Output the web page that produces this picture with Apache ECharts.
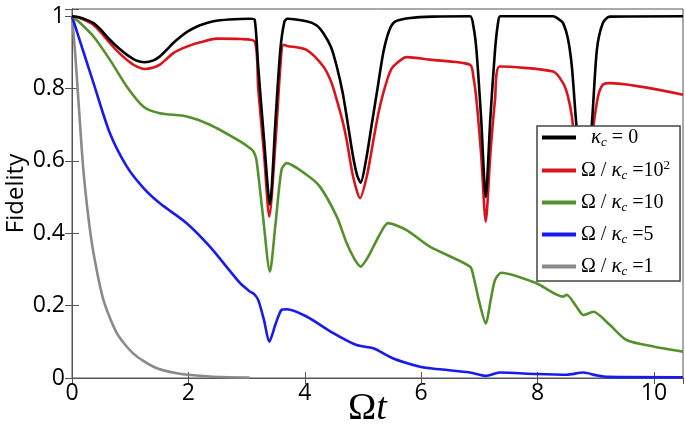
<!DOCTYPE html>
<html>
<head>
<meta charset="utf-8">
<style>
    html, body { margin: 0; padding: 0; background: #fff; }
    #fidelity { width: 685px; height: 424px; }
</style>
<script src="https://cdn.jsdelivr.net/npm/echarts@6/dist/echarts.min.js"></script>
</head>
<body>
<div id="fidelity"></div>
<script>
// 曲线数据
const blackX = [0, 0.12, 0.25, 0.37, 0.5, 0.65, 0.8, 0.94, 1.1, 1.25, 1.4, 1.51, 1.62, 1.74, 1.87, 1.99, 2.2, 2.43, 2.7, 3.06, 3.14, 3.2, 3.3, 3.4, 3.5, 3.58, 3.65, 3.7, 4.03, 4.2, 4.32, 4.45, 4.55, 4.65, 4.72, 4.83, 4.9, 4.96, 5.05, 5.15, 5.25, 5.35, 5.45, 5.55, 5.81, 6.2, 6.84, 6.9, 6.95, 7.03, 7.11, 7.19, 7.27, 7.32, 7.36, 8.27, 8.38, 8.44, 8.52, 8.59, 8.67, 8.8, 8.93, 9.02, 9.12, 9.24, 10.5];
const blackY = [1.0, 0.997, 0.99, 0.981, 0.962, 0.935, 0.912, 0.894, 0.878, 0.873, 0.878, 0.889, 0.906, 0.926, 0.944, 0.958, 0.975, 0.986, 0.991, 0.993, 0.99, 0.86, 0.66, 0.48, 0.72, 0.907, 0.985, 0.993, 0.986, 0.975, 0.953, 0.915, 0.861, 0.79, 0.723, 0.612, 0.56, 0.54, 0.6, 0.7, 0.8, 0.9, 0.96, 0.985, 0.995, 0.999, 1.0, 0.97, 0.907, 0.72, 0.50, 0.72, 0.907, 0.98, 1.0, 1.0, 0.99, 0.981, 0.94, 0.861, 0.695, 0.5, 0.695, 0.907, 0.98, 0.999, 1.0];

const redX = [0, 0.12, 0.25, 0.37, 0.5, 0.65, 0.8, 0.94, 1.1, 1.25, 1.4, 1.51, 1.62, 1.74, 1.87, 1.99, 2.2, 2.49, 2.89, 3.14, 3.2, 3.3, 3.39, 3.5, 3.58, 3.63, 3.7, 4.03, 4.32, 4.45, 4.55, 4.65, 4.72, 4.83, 4.95, 5.07, 5.18, 5.27, 5.35, 5.45, 5.52, 5.75, 6.15, 6.84, 6.9, 6.95, 7.03, 7.11, 7.19, 7.27, 7.35, 8.27, 8.44, 8.52, 8.59, 8.67, 8.8, 8.9, 8.96, 9.04, 9.12, 9.24, 10.5];
const redY = [1.0, 0.996, 0.987, 0.976, 0.955, 0.926, 0.9, 0.880, 0.862, 0.854, 0.858, 0.866, 0.881, 0.898, 0.909, 0.917, 0.928, 0.938, 0.937, 0.930, 0.80, 0.62, 0.446, 0.66, 0.86, 0.921, 0.918, 0.907, 0.861, 0.82, 0.769, 0.71, 0.658, 0.557, 0.497, 0.56, 0.658, 0.735, 0.788, 0.84, 0.861, 0.887, 0.880, 0.866, 0.83, 0.769, 0.62, 0.432, 0.62, 0.769, 0.861, 0.847, 0.815, 0.78, 0.723, 0.6, 0.44, 0.6, 0.695, 0.778, 0.81, 0.815, 0.783];

const greenX = [0, 0.15, 0.37, 0.65, 0.94, 1.23, 1.51, 1.97, 2.37, 2.89, 3.06, 3.12, 3.17, 3.28, 3.40, 3.50, 3.60, 3.69, 4.03, 4.26, 4.55, 4.72, 4.85, 4.96, 5.07, 5.18, 5.30, 5.43, 5.75, 6.15, 6.84, 6.90, 7.0, 7.11, 7.2, 7.27, 7.38, 7.98, 8.44, 8.5, 8.67, 8.79, 8.96, 9.24, 9.53, 9.99, 10.5];
const greenY = [1.0, 0.98, 0.944, 0.880, 0.806, 0.750, 0.732, 0.723, 0.700, 0.654, 0.635, 0.626, 0.603, 0.45, 0.294, 0.43, 0.575, 0.594, 0.562, 0.529, 0.446, 0.373, 0.33, 0.308, 0.33, 0.363, 0.40, 0.428, 0.409, 0.363, 0.308, 0.280, 0.21, 0.151, 0.22, 0.271, 0.291, 0.262, 0.225, 0.23, 0.197, 0.174, 0.183, 0.147, 0.105, 0.087, 0.073];

const blueX = [0, 0.1, 0.37, 0.65, 0.94, 1.23, 1.51, 1.97, 2.37, 2.89, 3.05, 3.13, 3.20, 3.30, 3.39, 3.50, 3.60, 3.69, 4.03, 4.49, 4.89, 5.18, 5.52, 5.98, 6.15, 6.84, 7.11, 7.35, 7.98, 8.5, 8.79, 9.0, 9.2, 10.5];
const blueY = [1.0, 0.95, 0.815, 0.677, 0.585, 0.525, 0.483, 0.428, 0.363, 0.262, 0.24, 0.232, 0.216, 0.16, 0.100, 0.15, 0.188, 0.190, 0.170, 0.124, 0.091, 0.082, 0.054, 0.031, 0.027, 0.015, 0.006, 0.015, 0.011, 0.009, 0.015, 0.008, 0.003, 0.002];

const grayX = [0, 0.05, 0.11, 0.19, 0.28, 0.37, 0.54, 0.77, 1.05, 1.40, 1.80, 2.37, 3.05];
const grayY = [1.0, 0.907, 0.769, 0.585, 0.446, 0.345, 0.216, 0.124, 0.068, 0.031, 0.013, 0.004, 0.001];

const legendNames = ['κc = 0', 'Ω/κc = 10^2', 'Ω/κc = 10', 'Ω/κc = 5', 'Ω/κc = 1'];
const legendRich = [
    '{pad|}{k|κ}{s|c}{n| = 0}',
    '{n|Ω / }{k|κ}{s|c}{n| =10}{p|2}',
    '{n|Ω / }{k|κ}{s|c}{n| =10}',
    '{n|Ω / }{k|κ}{s|c}{n| =5}',
    '{n|Ω / }{k|κ}{s|c}{n| =1}'
];
const lineColors = ['#000000', '#d9141b', '#54902b', '#1a1aef', '#8a8a8a'];

function zip(xs, ys) {
    return xs.map((x, i) => [x, ys[i]]);
}

let myChart = echarts.init(document.getElementById('fidelity'));

const allData = [zip(blackX, blackY), zip(redX, redY), zip(greenX, greenY), zip(blueX, blueY), zip(grayX, grayY)];
const drawOrder = [4, 3, 2, 1, 0];

myChart.setOption({
    animation: false,
    grid: {
        left: 72, right: 2, top: 9, bottom: 46,
        outerBoundsMode: 'none',
        containLabel: false,
        show: true, borderColor: '#555', borderWidth: 1
    },
    legend: {
        data: legendNames,
        orient: 'vertical',
        left: 537,
        top: 126,
        padding: [1, 10, 3, 5],
        itemGap: 10,
        itemWidth: 34,
        itemHeight: 4,
        itemTextGap: 6,
        icon: 'rect',
        backgroundColor: '#fff',
        borderColor: '#444',
        borderWidth: 1.5,
        borderRadius: 0,
        formatter: name => legendRich[legendNames.indexOf(name)],
        textStyle: {
            rich: {
                pad: { width: 10 },
                n: { fontFamily: 'Liberation Serif', fontSize: 20, color: '#000' },
                k: { fontFamily: 'Liberation Serif', fontSize: 21, fontStyle: 'italic', color: '#000' },
                s: { fontFamily: 'Liberation Serif', fontSize: 13, fontStyle: 'italic', color: '#000', padding: [10, 0, 0, 0] },
                p: { fontFamily: 'Liberation Serif', fontSize: 13, color: '#000', padding: [0, 0, 10, 0] }
            }
        }
    },
    xAxis: [{
        type: 'value',
        min: 0, max: 10.5, interval: 2,
        name: '{o|Ω}{t|t}',
        nameLocation: 'middle',
        nameGap: 12,
        nameMoveOverlap: false,
        nameTextStyle: {
            padding: [0, 20, 0, 0],
            rich: {
                o: { fontFamily: 'Liberation Serif', fontSize: 38, color: '#000' },
                t: { fontFamily: 'Liberation Serif', fontSize: 38, fontStyle: 'italic', color: '#000' }
            }
        },
        axisLine: { show: true, lineStyle: { color: '#555', width: 1 } },
        axisTick: { show: true, inside: true, length: 6, lineStyle: { color: '#555' } },
        axisLabel: { fontFamily: 'Open Sans', fontSize: 23, color: '#000', margin: 4 },
        splitLine: { show: false }
    }, {
        type: 'value',
        position: 'top',
        min: 0, max: 10.5, interval: 2,
        axisLine: { show: true, lineStyle: { color: '#555', width: 1 } },
        axisTick: { show: true, inside: true, length: 6, lineStyle: { color: '#555' } },
        axisLabel: { show: false },
        splitLine: { show: false }
    }],
    yAxis: [{
        type: 'value',
        min: 0, max: 1.02, interval: 0.2,
        name: 'Fidelity',
        nameLocation: 'middle',
        nameGap: 44,
        nameMoveOverlap: false,
        nameTextStyle: { fontFamily: 'Open Sans', fontSize: 24, color: '#000' },
        axisLine: { show: true, lineStyle: { color: '#555', width: 1 } },
        axisTick: { show: true, inside: true, length: 7, lineStyle: { color: '#555' } },
        axisLabel: {
            fontFamily: 'Open Sans', fontSize: 23, color: '#000', margin: 7,
            formatter: v => (v > 1.001 ? '' : String(Math.round(v * 10) / 10))
        },
        splitLine: { show: false }
    }, {
        type: 'value',
        position: 'right',
        min: 0, max: 1.02, interval: 0.2,
        axisLine: { show: true, lineStyle: { color: '#555', width: 1 } },
        axisTick: { show: true, inside: true, length: 7, lineStyle: { color: '#555' } },
        axisLabel: { show: false },
        splitLine: { show: false }
    }],
    series: drawOrder.map(i => ({
        name: legendNames[i],
        type: 'line',
        xAxisIndex: 0,
        yAxisIndex: 0,
        data: allData[i],
        smooth: 0.25,
        symbol: 'none',
        lineStyle: { color: lineColors[i], width: 2.6 },
        itemStyle: { color: lineColors[i] }
    }))
});
</script>
</body>
</html>
